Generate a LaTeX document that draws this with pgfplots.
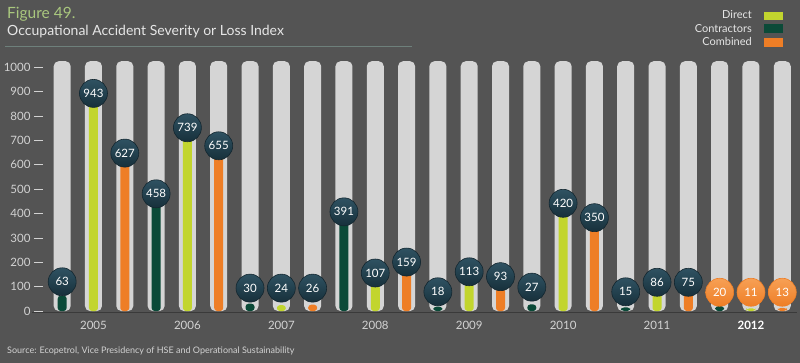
\documentclass[border=0pt]{standalone}
\usepackage{pgfplots}
\usepackage{pgfplotstable}
\pgfplotsset{compat=1.18}
\usepackage{fontspec}
\setmainfont{Lato}
\definecolor{bg}{HTML}{545454}
\definecolor{track}{HTML}{D5D5D5}
\definecolor{lime}{HTML}{C2D52E}
\definecolor{dgreen}{HTML}{0B4A38}
\definecolor{orng}{HTML}{EE7E26}
\definecolor{orngtop}{HTML}{F7A055}
\definecolor{circtop}{HTML}{2F5262}
\definecolor{circbot}{HTML}{17303B}
\definecolor{circedge}{HTML}{13262F}
\definecolor{labgray}{HTML}{D2D2D2}
\definecolor{titlegreen}{HTML}{A9C77E}
\definecolor{subgray}{HTML}{E6E6E6}
\definecolor{rulec}{HTML}{6E807B}
\definecolor{basec}{HTML}{3A3A3A}

\pgfplotstableread{
x y lab
0 63 120
3 458 481
6 30 94
9 391 407
12 18 79
15 27 98
18 15 79
21 20 77
}\contractors
\pgfplotstableread{
x y lab
1 943 893
4 739 752
7 24 94
10 107 156
13 113 161
16 420 442
19 86 118
22 11 77
}\direct
\pgfplotstableread{
x y lab
2 627 648
5 655 678
8 26 94
11 159 201
14 93 141
17 350 383
20 75 118
23 13 77
}\combined

\pgfplotsset{
  darklab/.style={only marks, mark=none, nodes near coords, point meta=explicit symbolic,
    restrict x to domain=-1:20.5,
    nodes near coords style={anchor=center, circle, minimum size=28pt, inner sep=0pt,
      top color=circtop, bottom color=circbot, draw=circedge, line width=0.6pt,
      text=white, font=\fontsize{11.5}{12}\selectfont}},
  orlab/.style={only marks, mark=none, nodes near coords, point meta=explicit symbolic,
    restrict x to domain=20.5:24,
    nodes near coords style={anchor=center, circle, minimum size=28pt, inner sep=0pt,
      top color=orngtop, bottom color=orng, draw=orng, line width=0.6pt,
      text=white, font=\fontsize{11.5}{12}\selectfont}},
}

\begin{document}
\begin{tikzpicture}
\fill[bg] (0pt,0pt) rectangle (800pt,363pt);
\node[anchor=base west, inner sep=0, text=titlegreen, font=\fontsize{15.5}{18}\selectfont] at (7pt,344.7pt) {Figure 49.};
\node[anchor=base west, inner sep=0, text=subgray, font=\fontsize{14}{16}\selectfont] at (7pt,327pt) {Occupational Accident Severity or Loss Index};
\draw[rulec, line width=0.8pt] (5pt,316.3pt) -- (412pt,316.3pt);
% legend
\node[anchor=base east, inner sep=0, text=subgray, font=\fontsize{11}{13}\selectfont] at (752pt,344pt) {Direct};
\node[anchor=base east, inner sep=0, text=subgray, font=\fontsize{11}{13}\selectfont] at (752pt,330.3pt) {Contractors};
\node[anchor=base east, inner sep=0, text=subgray, font=\fontsize{11}{13}\selectfont] at (752pt,317pt) {Combined};
\fill[lime] (764pt,343pt) rectangle (783pt,351.3pt);
\fill[dgreen] (764pt,329.7pt) rectangle (783pt,339pt);
\fill[orng] (764pt,316.3pt) rectangle (783pt,325.3pt);
% source
\node[anchor=base west, inner sep=0, text=labgray, font=\fontsize{9}{11}\selectfont] at (7pt,9.5pt) {Source: Ecopetrol, Vice Presidency of HSE and Operational Sustainability};

\begin{axis}[
  at={(34pt,50.5pt)}, anchor=south west, scale only axis,
  width=763pt, height=252.5pt,
  xmin=-0.9, xmax=23.47, ymin=-6, ymax=1030,
  clip=false,
  axis line style={draw=none},
  ytick={0,100,...,1000}, ytick pos=left,
  tick align=inside, major tick length=9pt,
  ytick style={draw=labgray, line width=0.8pt},
  xtick={1,4,7,10,13,16,19,22}, xtick pos=bottom,
  xticklabels={2005,2006,2007,2008,2009,2010,2011,{\textcolor{white}{\textbf{2012}}}},
  xtick style={draw=none},
  ticklabel style={text=labgray, font=\fontsize{11.5}{13}\selectfont},
  xticklabel style={yshift=-5pt},
  /pgf/number format/assume math mode=true,
  /pgf/number format/1000 sep={},
]
\draw[basec, line width=1.5pt] (axis cs:-0.95,-6) -- (axis cs:23.47,-6);
\addplot[ybar, bar width=17pt, bar shift=0pt, fill=track, draw=none, rounded corners=5pt]
 coordinates {(0,1025)(1,1025)(2,1025)(3,1025)(4,1025)(5,1025)(6,1025)(7,1025)(8,1025)(9,1025)(10,1025)(11,1025)(12,1025)(13,1025)(14,1025)(15,1025)(16,1025)(17,1025)(18,1025)(19,1025)(20,1025)(21,1025)(22,1025)(23,1025)};
\addplot[ybar, bar width=9pt, bar shift=0pt, fill=dgreen, draw=none, rounded corners=3pt] table[x=x,y=y]{\contractors};
\addplot[ybar, bar width=9pt, bar shift=0pt, fill=lime, draw=none, rounded corners=3pt] table[x=x,y=y]{\direct};
\addplot[ybar, bar width=9pt, bar shift=0pt, fill=orng, draw=none, rounded corners=3pt] table[x=x,y=y]{\combined};
\addplot[darklab] table[x=x,y=lab,meta=y]{\contractors};
\addplot[darklab] table[x=x,y=lab,meta=y]{\direct};
\addplot[darklab] table[x=x,y=lab,meta=y]{\combined};
\addplot[orlab] table[x=x,y=lab,meta=y]{\contractors};
\addplot[orlab] table[x=x,y=lab,meta=y]{\direct};
\addplot[orlab] table[x=x,y=lab,meta=y]{\combined};
\end{axis}
\end{tikzpicture}
\end{document}
